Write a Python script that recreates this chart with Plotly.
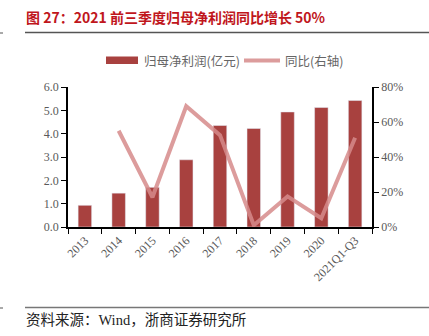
import plotly.graph_objects as go

categories = ["2013", "2014", "2015", "2016", "2017", "2018", "2019", "2020", "2021Q1-Q3"]
profit = [0.93, 1.45, 1.70, 2.88, 4.35, 4.22, 4.93, 5.12, 5.42]
yoy = [None, 0.55, 0.17, 0.69, 0.525, 0.01, 0.175, 0.05, 0.51]
left_ticks = [0, 1, 2, 3, 4, 5, 6]
right_ticks = [0, 0.2, 0.4, 0.6, 0.8]

BAR = "#a8413f"
LINE = "rgba(214,139,139,0.85)"
TICKC = "#595959"

W, H = 429, 336
L, R, T, B = 68, 57, 87, 109
PW, PH = W - L - R, H - T - B

def px(x):
    return (x - L) / PW

def py(y):
    return (H - B - y) / PH

fig = go.Figure()
fig.add_trace(go.Bar(x=categories, y=profit, name="归母净利润(亿元)", marker_color=BAR,
                     width=0.4, showlegend=False))
fig.add_trace(go.Scatter(x=categories, y=yoy, name="同比(右轴)", yaxis="y2", mode="lines",
                         line=dict(color=LINE, width=4), showlegend=False))

tickfont = dict(family="Liberation Serif, Times New Roman, serif", size=12, color=TICKC)

fig.update_layout(
    width=W, height=H,
    margin=dict(l=L, r=R, t=T, b=B),
    paper_bgcolor="white", plot_bgcolor="white",
    bargap=0.6,
    xaxis=dict(type="category", showline=True, linecolor="black", linewidth=1.5,
               ticks="outside", ticklen=5, tickcolor="black", tickson="boundaries",
               tickangle=-45, tickfont=tickfont, showgrid=False, zeroline=False),
    yaxis=dict(range=[0, 6], tickvals=left_ticks, tickformat=".1f", showline=True,
               linecolor="black", linewidth=1.5, ticks="outside", ticklen=5, tickcolor="black",
               tickfont=tickfont, showgrid=False, zeroline=False),
    yaxis2=dict(range=[0, 0.8], tickvals=right_ticks, tickformat=".0%", overlaying="y",
                side="right", showline=True, linecolor="black", linewidth=1.5,
                ticks="outside", ticklen=5, tickcolor="black", tickfont=tickfont,
                showgrid=False, zeroline=False),
    showlegend=False,
)

cjk = "Noto Sans CJK SC"
shapes = [
    dict(type="line", xref="paper", yref="paper", x0=px(25), x1=px(429), y0=py(32.5), y1=py(32.5),
         line=dict(color="#555555", width=1.5)),
    dict(type="line", xref="paper", yref="paper", x0=px(0), x1=px(3), y0=py(33), y1=py(33),
         line=dict(color="#555555", width=1)),
    dict(type="line", xref="paper", yref="paper", x0=px(25), x1=px(429), y0=py(307.5), y1=py(307.5),
         line=dict(color="#777777", width=1.5)),
    dict(type="line", xref="paper", yref="paper", x0=px(0), x1=px(3), y0=py(308), y1=py(308),
         line=dict(color="#555555", width=1)),
    dict(type="rect", xref="paper", yref="paper", x0=px(106), x1=px(138), y0=py(64), y1=py(56.5),
         fillcolor=BAR, line=dict(width=0)),
    dict(type="line", xref="paper", yref="paper", x0=px(244), x1=px(280), y0=py(60.5), y1=py(60.5),
         line=dict(color=LINE, width=4)),
]
fig.update_layout(shapes=shapes)

annotations = [
    dict(text="<b>图 27：2021 前三季度归母净利润同比增长 50%</b>", xref="paper", yref="paper",
         x=px(24), y=py(17), xanchor="left", yanchor="middle", showarrow=False,
         font=dict(family=cjk, size=14, color="#c0161c")),
    dict(text="归母净利润(亿元)", xref="paper", yref="paper", x=px(142), y=py(60.5),
         xanchor="left", yanchor="middle", showarrow=False,
         font=dict(family=cjk, size=12.5, color="#666666")),
    dict(text="同比(右轴)", xref="paper", yref="paper", x=px(283), y=py(60.5),
         xanchor="left", yanchor="middle", showarrow=False,
         font=dict(family=cjk, size=12.5, color="#666666")),
    dict(text="资料来源：Wind，浙商证券研究所", xref="paper", yref="paper", x=px(24), y=py(320),
         xanchor="left", yanchor="middle", showarrow=False,
         font=dict(family="Liberation Serif, " + cjk, size=14.5, color="#222222")),
]
fig.update_layout(annotations=annotations)

fig.write_html("out.html")
